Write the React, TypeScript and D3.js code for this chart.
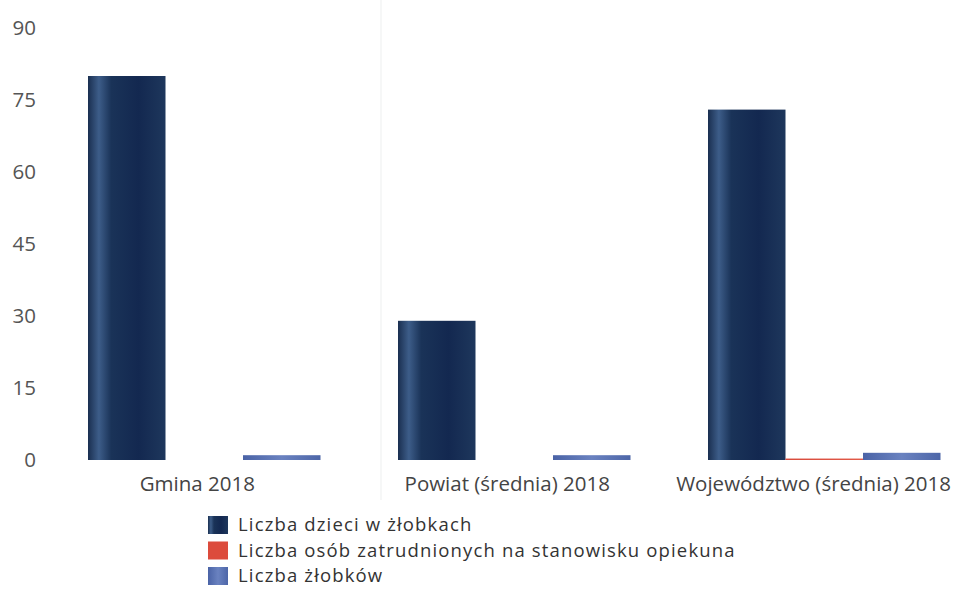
import React, { useEffect, useRef } from "react";
import * as d3 from "d3";

// data
const categories = ["Gmina 2018", "Powiat (średnia) 2018", "Województwo (średnia) 2018"];
const seriesNames = [
  "Liczba dzieci w żłobkach",
  "Liczba osób zatrudnionych na stanowisku opiekuna",
  "Liczba żłobków",
];
const dzieci = [80, 29, 73];
const opiekunowie = [0, 0, 0.3];
const zlobki = [1, 1, 1.5];
const yTicks = [0, 15, 30, 45, 60, 75, 90];

const W = 957;
const H = 589;
const FONT = "'Open Sans', 'Noto Sans', sans-serif";
const FS = 20.5;

function App() {
  const svgRef = useRef<SVGSVGElement>(null);

  useEffect(() => {
    const svg = d3.select(svgRef.current);
    svg.selectAll("*").remove();

    const values = [dzieci, opiekunowie, zlobki];

    const x = d3.scaleBand<string>()
      .domain(categories)
      .range([49.25, 979.25])
      .paddingInner(0.25)
      .paddingOuter(0.125);
    const xSub = d3.scaleBand<number>()
      .domain([0, 1, 2])
      .range([0, x.bandwidth()]);
    const y = d3.scaleLinear().domain([0, 90]).range([460, 28]);

    // gradients to get the shaded cylinder look
    const defs = svg.append("defs");
    const grads = [
      ["g0", [["0%", "#1a2f50"], ["14%", "#3d5d89"], ["30%", "#1a3358"], ["65%", "#132850"], ["100%", "#1e375c"]]],
      ["g1", [["0%", "#d84a3c"], ["100%", "#e25a48"]]],
      ["g2", [["0%", "#4a63a6"], ["50%", "#6a82c0"], ["100%", "#4d66a8"]]],
    ] as const;
    grads.forEach(([id, stops]) => {
      const g = defs.append("linearGradient").attr("id", id).attr("x1", 0).attr("x2", 1).attr("y1", 0).attr("y2", 0);
      stops.forEach(([o, c]) => g.append("stop").attr("offset", o).attr("stop-color", c));
    });

    // faint scan line in the middle
    svg.append("line")
      .attr("x1", 381).attr("x2", 381).attr("y1", 0).attr("y2", 500)
      .attr("stroke", "#f6f7f7").attr("stroke-width", 2);

    // y labels
    svg.append("g").selectAll("text").data(yTicks).join("text")
      .attr("x", 36)
      .attr("y", d => y(d))
      .attr("dy", "0.35em")
      .attr("text-anchor", "end")
      .attr("font-family", FONT)
      .attr("font-size", FS)
      .attr("fill", "#555")
      .text(d => d);

    // bars
    const groups = svg.append("g").selectAll("g").data(categories).join("g")
      .attr("transform", c => `translate(${x(c)},0)`);
    groups.selectAll("rect")
      .data((c, i) => values.map((s, k) => ({ k, v: s[i] })))
      .join("rect")
      .attr("x", d => xSub(d.k)!)
      .attr("width", xSub.bandwidth())
      .attr("y", d => y(d.v))
      .attr("height", d => y(0) - y(d.v))
      .attr("fill", d => `url(#g${d.k})`);

    // category labels
    const labels = svg.append("g").selectAll("text").data(categories).join("text")
      .attr("x", c => x(c)! + x.bandwidth() / 2 - 7)
      .attr("y", 484)
      .attr("dy", "0.35em")
      .attr("text-anchor", "middle")
      .attr("font-family", FONT)
      .attr("font-size", FS)
      .attr("fill", "#444")
      .text(c => c);
    labels.each(function () {
      const t = this as SVGTextElement;
      const len = t.getComputedTextLength();
      const cx = +t.getAttribute("x")!;
      if (cx + len / 2 > W - 6) t.setAttribute("x", String(W - 6 - len / 2));
    });

    // legend (rows are tight in the original)
    const legendColors = ["url(#g0)", "#dc4b3c", "url(#g2)"];
    const leg = svg.append("g").selectAll("g").data(seriesNames).join("g")
      .attr("transform", (d, i) => `translate(208,${525 + i * 25.5})`);
    leg.append("rect")
      .attr("x", 0).attr("y", -9).attr("width", 20).attr("height", 18)
      .attr("fill", (d, i) => legendColors[i]);
    leg.append("text")
      .attr("x", 30)
      .attr("dy", "0.35em")
      .attr("font-family", FONT)
      .attr("font-size", 18.5)
      .attr("letter-spacing", 1.15)
      .attr("fill", "#333")
      .text(d => d);
  }, []);

  return (
    <svg ref={svgRef} width={W} height={H}
      style={{ position: "absolute", left: 0, top: 0, background: "#fff" }} />
  );
}

export default App;
